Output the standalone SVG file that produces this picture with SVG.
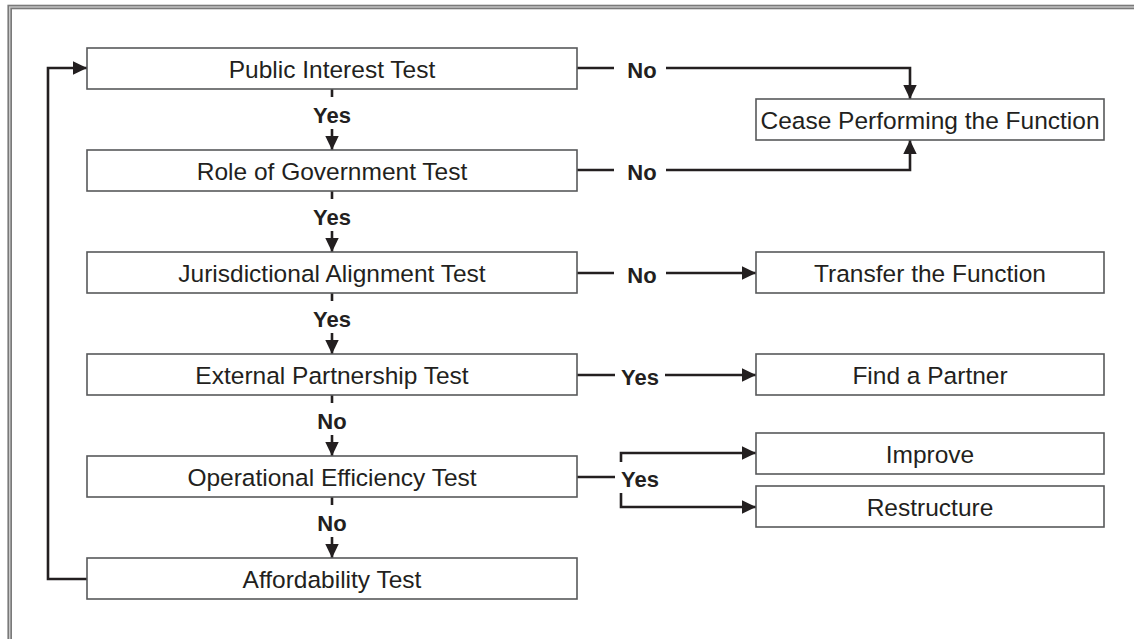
<svg xmlns="http://www.w3.org/2000/svg" width="1134" height="639" viewBox="0 0 1134 639">
  <style>
    .box { fill: #ffffff; stroke: #58595b; stroke-width: 1.6; }
    .lbl { font-family: "Liberation Sans", Arial, sans-serif; font-size: 24.5px; fill: #231f20; text-anchor: middle; }
    .ans { font-family: "Liberation Sans", Arial, sans-serif; font-size: 22px; font-weight: bold; fill: #231f20; text-anchor: middle; }
    .wire { fill: none; stroke: #231f20; stroke-width: 2.6; }
  </style>
  <defs>
    <marker id="arrow" markerUnits="userSpaceOnUse" markerWidth="15" markerHeight="15" viewBox="0 0 15 15" refX="14" refY="7.5" orient="auto">
      <path d="M0,0.8 L14,7.5 L0,14.2 Z" fill="#231f20"/>
    </marker>
  </defs>

  <rect width="1134" height="639" fill="#ffffff"/>

  <!-- page frame (runs off the right and bottom edges) -->
  <g id="frame">
    <rect x="9.7" y="7" width="1140" height="650" fill="none" stroke="#7a7a7a" stroke-width="4.6"/>
    <rect x="9.7" y="7" width="1140" height="650" fill="none" stroke="#c8c8c8" stroke-width="1.4"/>
  </g>

  <!-- connectors -->
  <g id="connectors">
    <!-- loop back from Affordability to Public Interest -->
    <path class="wire" d="M87,579 H48 V68 H87" marker-end="url(#arrow)"/>

    <!-- vertical flow between tests -->
    <path class="wire" d="M332,89 V97"/>
    <path class="wire" d="M332,129 V150" marker-end="url(#arrow)"/>
    <path class="wire" d="M332,191 V199"/>
    <path class="wire" d="M332,231 V252" marker-end="url(#arrow)"/>
    <path class="wire" d="M332,293 V301"/>
    <path class="wire" d="M332,333 V354" marker-end="url(#arrow)"/>
    <path class="wire" d="M332,395 V403"/>
    <path class="wire" d="M332,435 V456" marker-end="url(#arrow)"/>
    <path class="wire" d="M332,497 V505"/>
    <path class="wire" d="M332,537 V558" marker-end="url(#arrow)"/>

    <!-- Public Interest -> Cease -->
    <path class="wire" d="M577,68 H614"/>
    <path class="wire" d="M666,68 H910 V99" marker-end="url(#arrow)"/>
    <!-- Role of Government -> Cease -->
    <path class="wire" d="M577,170 H614"/>
    <path class="wire" d="M666,170 H910 V140" marker-end="url(#arrow)"/>
    <!-- Jurisdictional -> Transfer -->
    <path class="wire" d="M577,273 H614"/>
    <path class="wire" d="M666,273 H756" marker-end="url(#arrow)"/>
    <!-- External Partnership -> Find a Partner -->
    <path class="wire" d="M577,375 H615"/>
    <path class="wire" d="M665,375 H756" marker-end="url(#arrow)"/>
    <!-- Operational Efficiency -> Improve / Restructure -->
    <path class="wire" d="M577,477 H615"/>
    <path class="wire" d="M621,462 V453 H756" marker-end="url(#arrow)"/>
    <path class="wire" d="M621,493 V507 H756" marker-end="url(#arrow)"/>

    <!-- answer labels -->
    <text class="ans" x="332" y="123">Yes</text>
    <text class="ans" x="332" y="225">Yes</text>
    <text class="ans" x="332" y="327">Yes</text>
    <text class="ans" x="332" y="429">No</text>
    <text class="ans" x="332" y="531">No</text>
    <text class="ans" x="642" y="78">No</text>
    <text class="ans" x="642" y="180">No</text>
    <text class="ans" x="642" y="283">No</text>
    <text class="ans" x="640" y="385">Yes</text>
    <text class="ans" x="640" y="487">Yes</text>
  </g>

  <!-- test steps -->
  <g id="public-interest">
    <rect class="box" x="87" y="48" width="490" height="41"/>
    <text class="lbl" x="332" y="77.5">Public Interest Test</text>
  </g>
  <g id="role-of-government">
    <rect class="box" x="87" y="150" width="490" height="41"/>
    <text class="lbl" x="332" y="179.5">Role of Government Test</text>
  </g>
  <g id="jurisdictional-alignment">
    <rect class="box" x="87" y="252" width="490" height="41"/>
    <text class="lbl" x="332" y="281.5">Jurisdictional Alignment Test</text>
  </g>
  <g id="external-partnership">
    <rect class="box" x="87" y="354" width="490" height="41"/>
    <text class="lbl" x="332" y="383.5">External Partnership Test</text>
  </g>
  <g id="operational-efficiency">
    <rect class="box" x="87" y="456" width="490" height="41"/>
    <text class="lbl" x="332" y="485.5">Operational Efficiency Test</text>
  </g>
  <g id="affordability">
    <rect class="box" x="87" y="558" width="490" height="41"/>
    <text class="lbl" x="332" y="587.5">Affordability Test</text>
  </g>

  <!-- outcomes -->
  <g id="cease">
    <rect class="box" x="756" y="99" width="348" height="41"/>
    <text class="lbl" x="930" y="128.5">Cease Performing the Function</text>
  </g>
  <g id="transfer">
    <rect class="box" x="756" y="252" width="348" height="41"/>
    <text class="lbl" x="930" y="281.5">Transfer the Function</text>
  </g>
  <g id="find-partner">
    <rect class="box" x="756" y="354" width="348" height="41"/>
    <text class="lbl" x="930" y="383.5">Find a Partner</text>
  </g>
  <g id="improve">
    <rect class="box" x="756" y="433" width="348" height="41"/>
    <text class="lbl" x="930" y="462.5">Improve</text>
  </g>
  <g id="restructure">
    <rect class="box" x="756" y="486" width="348" height="41"/>
    <text class="lbl" x="930" y="515.5">Restructure</text>
  </g>
</svg>
